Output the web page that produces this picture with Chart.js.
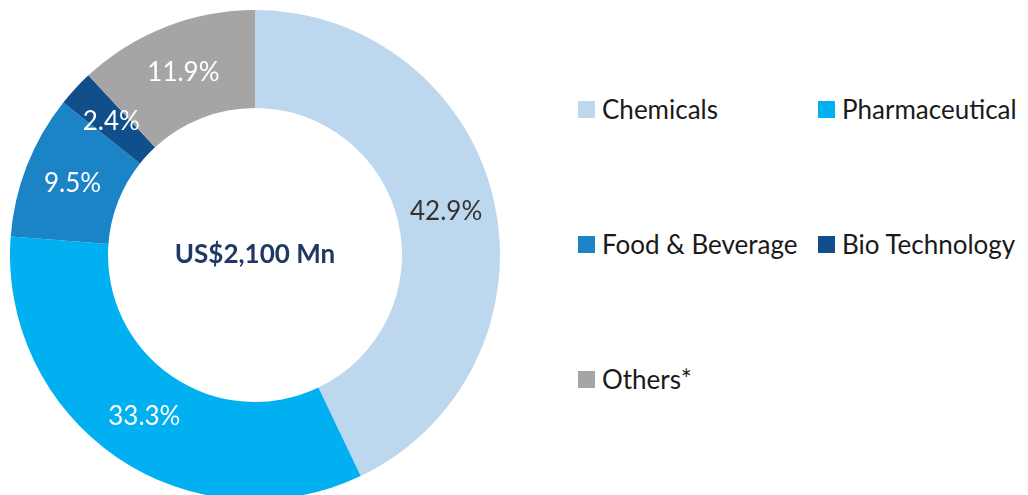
<!DOCTYPE html>
<html>
<head>
<meta charset="utf-8">
<script src="https://cdn.jsdelivr.net/npm/chart.js@4.4.1/dist/chart.umd.min.js"></script>
<style>
  html, body { margin: 0; padding: 0; background: #fff; width: 1028px; height: 495px; overflow: hidden; }
  #wrap { position: absolute; left: 10px; top: 10px; width: 490px; height: 490px; }
  #legend { position: absolute; left: 578px; top: 0; width: 450px; font-family: Lato, sans-serif; font-size: 26px; color: #1a1a1a; }
  .item { position: absolute; display: flex; align-items: center; white-space: nowrap; }
  .box { width: 17px; height: 17px; margin-right: 7px; }
</style>
</head>
<body>
<div id="wrap"><canvas id="donut"></canvas></div>
<div id="legend"></div>
<script>
const categories = ['Chemicals', 'Pharmaceutical', 'Food & Beverage', 'Bio Technology', 'Others*'];
const shares = [42.9, 33.3, 9.5, 2.4, 11.9];
const colors = ['#BDD7EE', '#00B0F0', '#1A84C7', '#114E8C', '#A5A5A5'];
const labelColors = ['#333333', '#ffffff', '#ffffff', '#ffffff', '#ffffff'];
const centerText = 'US$2,100 Mn';

// etiquetas de porcentagem no meio de cada fatia
const sliceLabels = {
    id: 'sliceLabels',
    afterDatasetsDraw(chart) {
        const ctx = chart.ctx;
        const meta = chart.getDatasetMeta(0);
        ctx.save();
        ctx.font = '26px Lato, sans-serif';
        ctx.textAlign = 'center';
        ctx.textBaseline = 'middle';
        meta.data.forEach((arc, i) => {
            const pos = arc.tooltipPosition();
            ctx.fillStyle = labelColors[i];
            ctx.fillText(shares[i].toFixed(1) + '%', pos.x, pos.y);
        });
        ctx.restore();
    }
};

const centerLabel = {
    id: 'centerLabel',
    afterDraw(chart) {
        const ctx = chart.ctx;
        const area = chart.chartArea;
        ctx.save();
        ctx.font = 'bold 26px Lato, sans-serif';
        ctx.fillStyle = '#1F3864';
        ctx.textAlign = 'center';
        ctx.textBaseline = 'middle';
        ctx.fillText(centerText, (area.left + area.right) / 2, (area.top + area.bottom) / 2);
        ctx.restore();
    }
};

new Chart(document.getElementById('donut'), {
    type: 'doughnut',
    data: {
        labels: categories,
        datasets: [{
            data: shares,
            backgroundColor: colors,
            borderWidth: 0
        }]
    },
    options: {
        responsive: true,
        maintainAspectRatio: false,
        animation: false,
        cutout: '60%',
        layout: { padding: 0 },
        plugins: {
            legend: { display: false },
            tooltip: { enabled: false }
        }
    },
    plugins: [sliceLabels, centerLabel]
});

// legenda em duas colunas
const legend = document.getElementById('legend');
const colX = [0, 240];
const rowY = [110, 245, 380];
categories.forEach((name, i) => {
    const item = document.createElement('div');
    item.className = 'item';
    item.style.left = colX[i % 2] + 'px';
    item.style.top = (rowY[Math.floor(i / 2)] - 17) + 'px';
    item.innerHTML = '<span class="box" style="background:' + colors[i] + '"></span><span>' + name + '</span>';
    legend.appendChild(item);
});
</script>
</body>
</html>
